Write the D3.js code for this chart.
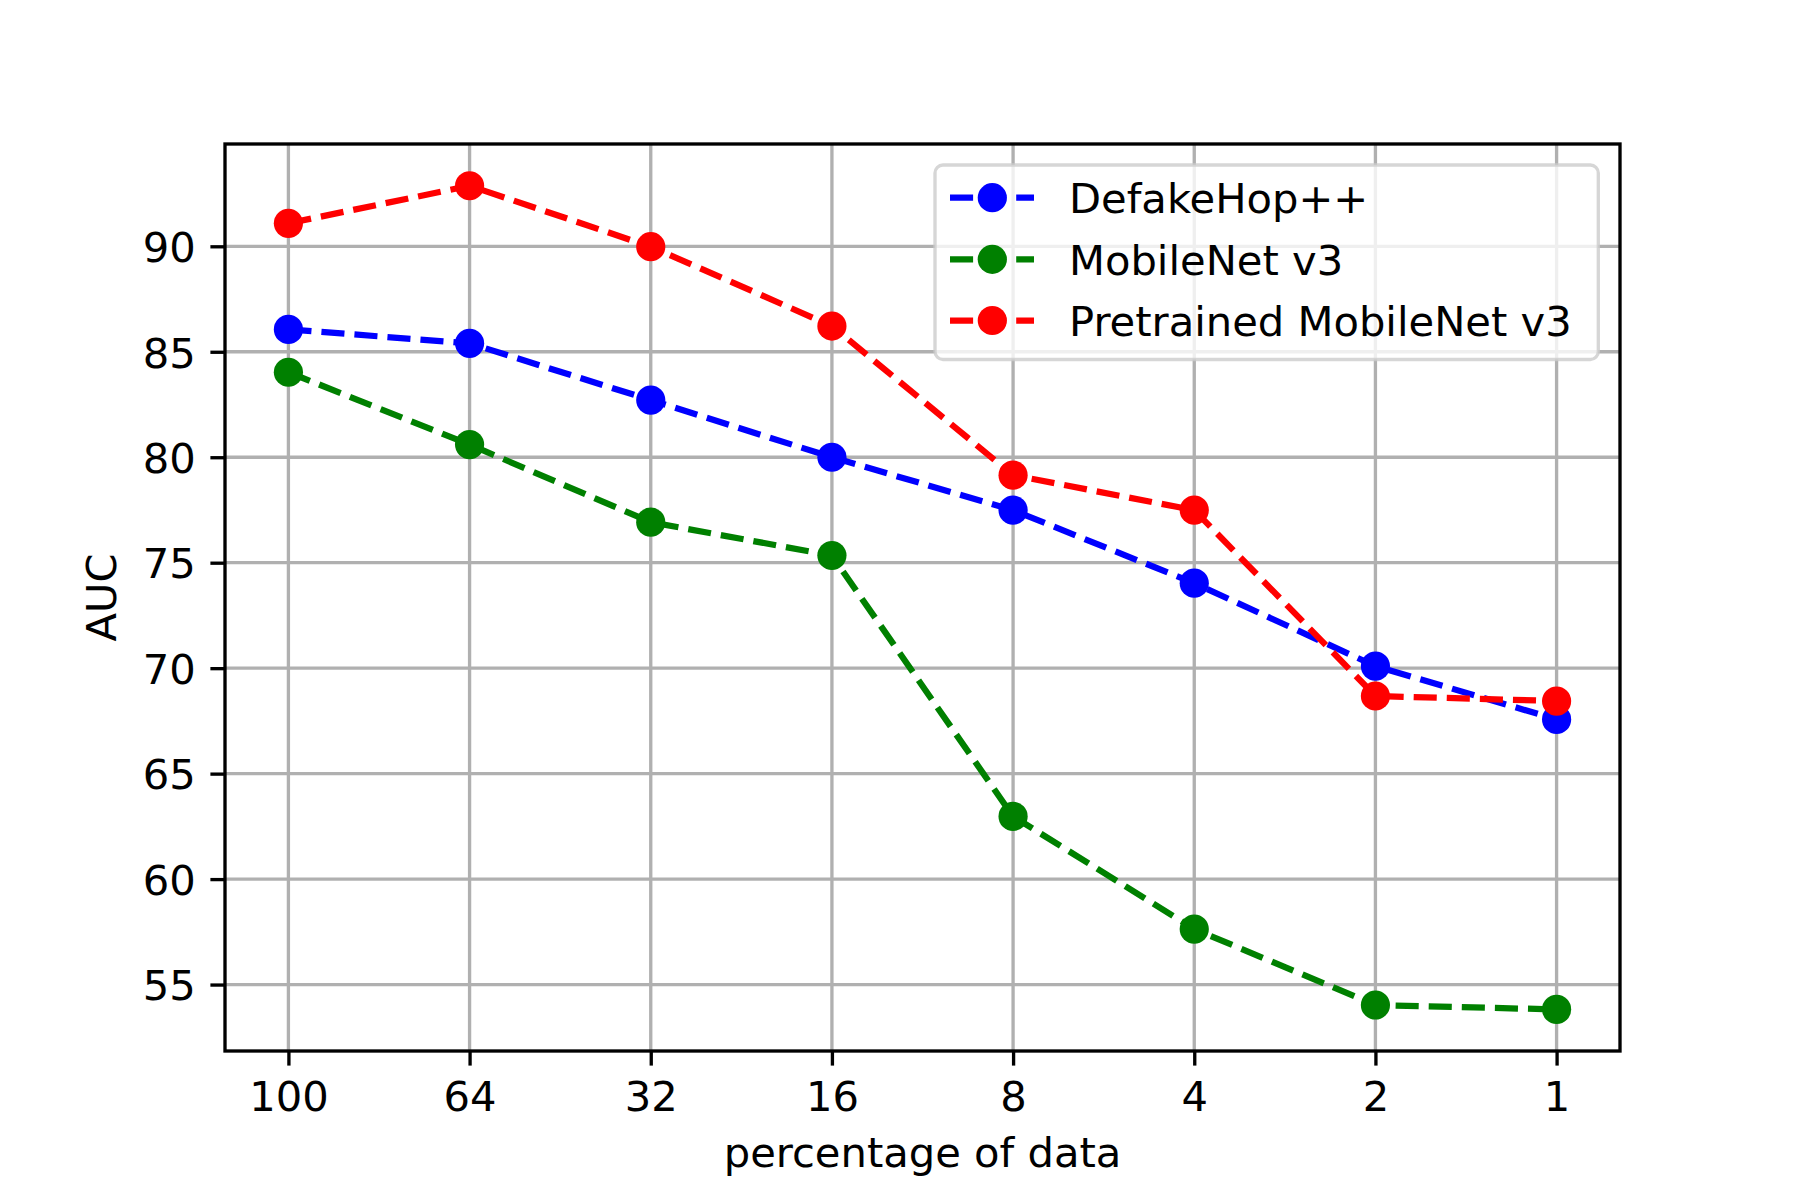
<!DOCTYPE html>
<html>
<head>
<meta charset="utf-8">
<script src="https://cdn.jsdelivr.net/npm/d3@7"></script>
<style>
  html, body { margin: 0; padding: 0; background: #fff; }
  svg { display: block; font-family: "DejaVu Sans", sans-serif; }
</style>
</head>
<body>
<svg id="chart" width="1800" height="1200"></svg>
<script>
// ---- data ----
const categories = ["100", "64", "32", "16", "8", "4", "2", "1"];
const defakeHop = [86.06, 85.40, 82.71, 80.00, 77.49, 74.03, 70.10, 67.57];
const mobileNet = [84.03, 80.60, 76.92, 75.34, 62.97, 57.63, 54.03, 53.82];
const pretrained = [91.09, 92.87, 89.98, 86.22, 79.15, 77.49, 68.68, 68.44];
const yTicks = [55, 60, 65, 70, 75, 80, 85, 90];
const seriesNames = ["DefakeHop++", "MobileNet v3", "Pretrained MobileNet v3"];
const seriesColors = ["#0000ff", "#008000", "#ff0000"];
const xLabel = "percentage of data";
const yLabel = "AUC";

const series = [defakeHop, mobileNet, pretrained].map((v, i) => ({
  name: seriesNames[i], color: seriesColors[i], values: v
}));

// ---- layout ----
const L = 225, R = 1620, T = 144, B = 1051;
const svg = d3.select("#chart");

const x = d3.scaleLinear().domain([-0.35, categories.length - 1 + 0.35]).range([L, R]);
const y = d3.scaleLinear().domain([51.85, 94.85]).range([B, T]);

const fs = 41.67;
const gridColor = "#b0b0b0";
const lw = 6.25;
const mr = 14.6;

// grid
const g = svg.append("g");
g.selectAll(".gx").data(categories).enter().append("line")
  .attr("x1", (d, i) => x(i)).attr("x2", (d, i) => x(i))
  .attr("y1", T).attr("y2", B)
  .attr("stroke", gridColor).attr("stroke-width", 3.33);
g.selectAll(".gy").data(yTicks).enter().append("line")
  .attr("x1", L).attr("x2", R)
  .attr("y1", d => y(d)).attr("y2", d => y(d))
  .attr("stroke", gridColor).attr("stroke-width", 3.33);

// axes via d3 axis
const xAxis = d3.axisBottom(x)
  .tickValues(d3.range(categories.length))
  .tickFormat(i => categories[i])
  .tickSize(14.6).tickPadding(14.6);
const yAxis = d3.axisLeft(y)
  .tickValues(yTicks)
  .tickFormat(d3.format("d"))
  .tickSize(14.6).tickPadding(14.6);

const gx = svg.append("g").attr("transform", `translate(0,${B})`).call(xAxis);
const gy = svg.append("g").attr("transform", `translate(${L},0)`).call(yAxis);
[gx, gy].forEach(a => {
  a.select(".domain").remove();
  a.selectAll(".tick line").attr("stroke", "#000").attr("stroke-width", 3.33);
  a.selectAll(".tick text").attr("fill", "#000")
    .style("font-family", "'DejaVu Sans', sans-serif").style("font-size", fs + "px");
});
gx.selectAll(".tick text").attr("dy", null).attr("y", 0)
  .attr("transform", "translate(0,59.7)");
gy.selectAll(".tick text").attr("dy", null).attr("x", -29.2)
  .attr("transform", "translate(0,15.3)");

// lines + markers (series order)
const line = d3.line().x((d, i) => x(i)).y(d => y(d));

series.forEach(s => {
  const sg = svg.append("g");
  sg.append("path").datum(s.values)
    .attr("d", line).attr("fill", "none")
    .attr("stroke", s.color).attr("stroke-width", lw)
    .attr("stroke-dasharray", "23.1,10");
  sg.selectAll("circle").data(s.values).enter().append("circle")
    .attr("cx", (d, i) => x(i)).attr("cy", d => y(d))
    .attr("r", mr).attr("fill", s.color);
});

// frame (spines)
svg.append("rect").attr("x", L).attr("y", T).attr("width", R - L).attr("height", B - T)
  .attr("fill", "none").attr("stroke", "#000").attr("stroke-width", 3.33);

// axis labels
svg.append("text").attr("x", (L + R) / 2).attr("y", 1167)
  .attr("text-anchor", "middle").style("font-size", fs + "px").text(xLabel);
svg.append("text").attr("transform", `translate(116,${(T + B) / 2}) rotate(-90)`)
  .attr("text-anchor", "middle").style("font-size", fs + "px").text(yLabel);

// legend
const lg = svg.append("g");
lg.append("rect").attr("x", 935).attr("y", 165).attr("width", 663.3).attr("height", 194.5)
  .attr("rx", 8).attr("ry", 8)
  .attr("fill", "#fff").attr("fill-opacity", 0.8)
  .attr("stroke", "#cccccc").attr("stroke-opacity", 0.8).attr("stroke-width", 3.33);
const rowY = [197.7, 259.3, 320.5];
series.forEach((s, i) => {
  const ry = rowY[i];
  lg.append("line").attr("x1", 950).attr("x2", 1034).attr("y1", ry).attr("y2", ry)
    .attr("stroke", s.color).attr("stroke-width", lw).attr("stroke-dasharray", "23.1,10");
  lg.append("circle").attr("cx", 992.3).attr("cy", ry).attr("r", mr).attr("fill", s.color);
  lg.append("text").attr("x", 1069).attr("y", ry + 15.2)
    .style("font-size", fs + "px").text(s.name);
});
</script>
</body>
</html>
